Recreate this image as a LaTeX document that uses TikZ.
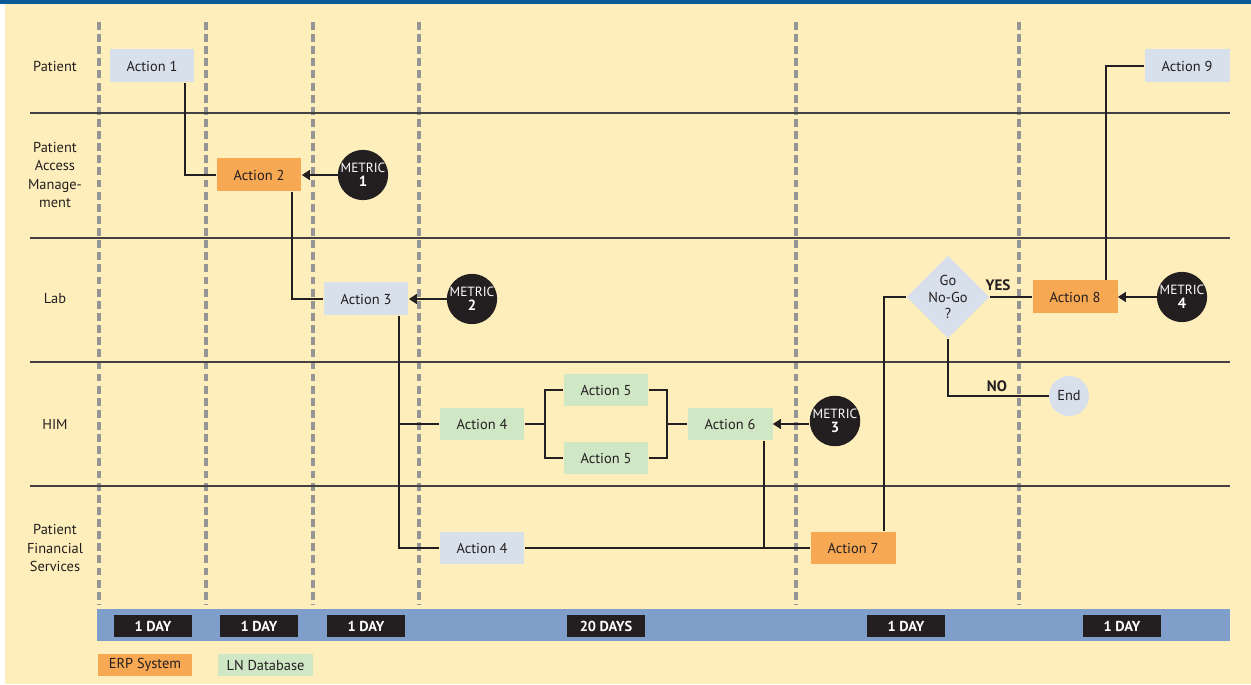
\documentclass[tikz,border=0pt]{standalone}
\usepackage{fontspec}
\setmainfont{PT Sans}
\usepackage{tikz}
\usetikzlibrary{arrows.meta, positioning, shapes.geometric}

\definecolor{bgyellow}{HTML}{FEEEBB}
\definecolor{topblue}{HTML}{0B5A97}
\definecolor{barblue}{HTML}{7F9EC9}
\definecolor{ptblue}{HTML}{D8E0EC}
\definecolor{erporange}{HTML}{F6A852}
\definecolor{lngreen}{HTML}{D0E7C6}
\definecolor{inkblack}{HTML}{231F20}
\definecolor{dashgray}{HTML}{959595}

\begin{document}
\begin{tikzpicture}[x=0.02cm, y=-0.02cm, >={Triangle[length=4.5pt,width=5.5pt]},
  font=\fontsize{8.2}{9.6}\selectfont, text=inkblack,
  action/.style={minimum width=1.7cm, minimum height=0.66cm, inner sep=0pt},
  patient/.style={action, fill=ptblue},
  erp/.style={action, fill=erporange},
  lndb/.style={action, fill=lngreen},
  metric/.style={circle, fill=inkblack, text=white, minimum size=0.96cm, inner sep=0pt,
    align=center, font=\fontsize{7.6}{8}\selectfont},
  lane/.style={align=center, font=\fontsize{8.2}{10.6}\selectfont},
  flow/.style={line width=1.1pt, inkblack},
  daybox/.style={fill=inkblack, text=white, minimum width=1.56cm, minimum height=0.44cm,
    inner sep=0pt, font=\bfseries\fontsize{8.2}{9}\selectfont},
  tag/.style={font=\bfseries\fontsize{8.6}{9}\selectfont}]
  % Page and background
  \useasboundingbox (0,0) rectangle (1251,685);
  \fill[white] (0,0) rectangle (1251,685);
  \fill[bgyellow] (5,4) rectangle (1251,684);
  \fill[topblue] (0,0) rectangle (1251,4);
  % Time columns
  \foreach \x in {99,206,313,419,796,1019}
    \draw[dashgray, line width=2pt, dash pattern=on 4.5pt off 2.4pt] (\x,22) -- (\x,604);
  % Swim lanes
  \foreach \y in {113,238,362,486}
    \draw[inkblack!85, line width=0.6pt] (30,\y) -- (1230,\y);
  \node[lane] (lpat) at (55,66) {Patient};
  \node[lane] (lpam) at (55,175) {Patient\\Access\\Manage-\\ment};
  \node[lane] (llab) at (55,299) {Lab};
  \node[lane] (lhim) at (55,424) {HIM};
  \node[lane] (lpfs) at (55,548) {Patient\\Financial\\Services};
  % Timeline bar
  \fill[barblue] (97,609) rectangle (1230,641);
  \node[daybox] (d1) at (153,626) {1 DAY};
  \node[daybox] (d2) at (259,626) {1 DAY};
  \node[daybox] (d3) at (366,626) {1 DAY};
  \node[daybox] (d4) at (606,626) {20 DAYS};
  \node[daybox] (d5) at (906,626) {1 DAY};
  \node[daybox] (d6) at (1122,626) {1 DAY};
  % Legend
  \node[erp, minimum width=1.88cm, minimum height=0.44cm] (kerp) at (145,665) {ERP System};
  \node[lndb, minimum width=1.9cm, minimum height=0.44cm] (kln) at (265.5,665) {LN Database};
  % Actions
  \node[patient] (a1) at (152,66) {Action 1};
  \node[erp] (a2) at (259,175) {Action 2};
  \node[patient] (a3) at (366,299) {Action 3};
  \node[lndb] (a4h) at (482,424) {Action 4};
  \node[lndb] (a5t) at (606,390) {Action 5};
  \node[lndb] (a5b) at (606,458) {Action 5};
  \node[lndb] (a6) at (730,424) {Action 6};
  \node[patient] (a4p) at (482,548) {Action 4};
  \node[erp] (a7) at (853,548) {Action 7};
  \node[diamond, fill=ptblue, minimum width=1.6cm, minimum height=1.6cm, inner sep=0pt,
    align=center, font=\fontsize{8.2}{9.4}\selectfont] (go) at (948,297) {Go\\No-Go\\?};
  \node[erp] (a8) at (1075,297) {Action 8};
  \node[patient] (a9) at (1187,66) {Action 9};
  \node[circle, fill=ptblue, minimum size=0.8cm, inner sep=0pt] (end) at (1069,396) {End};
  % Metrics
  \node[metric] (m1) at (363,175) {METRIC\\\textbf{\fontsize{8.4}{8}\selectfont 1}};
  \node[metric] (m2) at (472,299) {METRIC\\\textbf{\fontsize{8.4}{8}\selectfont 2}};
  \node[metric] (m3) at (835,421) {METRIC\\\textbf{\fontsize{8.4}{8}\selectfont 3}};
  \node[metric] (m4) at (1182,297) {METRIC\\\textbf{\fontsize{8.4}{8}\selectfont 4}};
  % Flow
  \draw[flow] ([xshift=-0.2cm]a1.south east) |- (a2.west);
  \draw[flow] ([xshift=-0.2cm]a2.south east) |- (a3.west);
  \coordinate (j3) at ([xshift=-0.2cm]a3.south east);
  \draw[flow] (j3) |- (a4p.west);
  \draw[flow] (j3 |- a4h.west) -- (a4h.west);
  \coordinate (f1) at ([xshift=0.4cm]a4h.east);
  \draw[flow] (a4h.east) -- (f1);
  \draw[flow] (a5t.west) -| (f1) |- (a5b.west);
  \coordinate (f2) at ([xshift=0.36cm]a5t.east);
  \draw[flow] (a5t.east) -- (f2) -- (f2 |- a5b.east) -- (a5b.east);
  \draw[flow] (f2 |- a6.west) -- (a6.west);
  \coordinate (j6) at ([xshift=-0.18cm]a6.south east);
  \draw[flow] (j6) -- (j6 |- a4p.east);
  \draw[flow] (a4p.east) -- (a7.west);
  \draw[flow] ([xshift=-0.24cm]a7.north east) |- (go.west);
  \draw[flow] (go.east) -- (a8.west);
  \draw[flow] (go.south) |- (end.west);
  \draw[flow] ([xshift=-0.24cm]a8.north east) |- (a9.west);
  \node[tag] (yes) at (998,285) {YES};
  \node[tag] (no) at (997,386) {NO};
  % Metric arrows
  \draw[flow, ->] (m1) -- (a2.east);
  \draw[flow, ->] (m2) -- (a3.east);
  \draw[flow, ->] (m3.west |- a6.east) -- (a6.east);
  \draw[flow, ->] (m4) -- (a8.east);
\end{tikzpicture}
\end{document}
